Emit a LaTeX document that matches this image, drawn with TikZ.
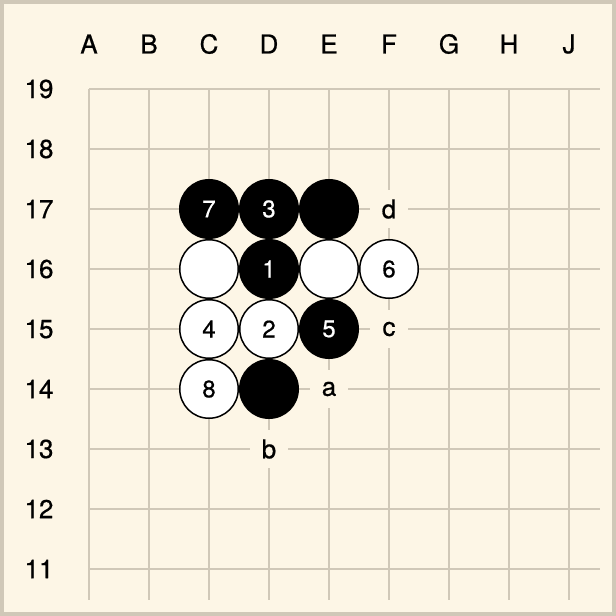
\documentclass[tikz,border=0pt]{standalone}
\usepackage{fontspec}
\setmainfont{TeX Gyre Heros}
\newfontfamily\goheavy[FakeBold=0.6]{TeX Gyre Heros}
\definecolor{boardbg}{HTML}{FDF6E6}
\definecolor{framec}{HTML}{D0C8B8}
\definecolor{gridc}{HTML}{D0C8B8}
\tikzset{
  gridline/.style={draw=gridc, line width=2pt},
  coordlabel/.style={inner sep=0pt, font=\goheavy\fontsize{26}{26}\selectfont},
  stonebase/.style={circle, inner sep=0pt, minimum size=58.5pt, line width=1.5pt, draw=black, font=\goheavy\fontsize{24}{24}\selectfont},
  bstone/.style={stonebase, fill=black, text=white},
  wstone/.style={stonebase, fill=white, text=black},
  marker/.style={fill=boardbg, inner sep=0pt, minimum size=38pt, font=\goheavy\fontsize{26}{26}\selectfont}
}
\begin{document}
\begin{tikzpicture}[x=1pt,y=-1pt]
\useasboundingbox (0,0) rectangle (616,616);
\fill[framec] (0,0) rectangle (616,616);
\fill[boardbg] (4,4) rectangle (612,612);
\foreach \i in {0,...,8} {
  \draw[gridline] (89+60*\i,89) -- (89+60*\i,600);
  \draw[gridline] (89,89+60*\i) -- (600,89+60*\i);
}
\foreach \l [count=\i from 0] in {A,B,C,D,E,F,G,H,J}
  \node[coordlabel] (col\l) at (89+60*\i,44) {\l};
\foreach \r [count=\j from 0] in {19,18,17,16,15,14,13,12,11}
  \node[coordlabel] (row\r) at (39,89+60*\j) {\r};
% black stones
\node[bstone] (C17) at (209,209) {7};
\node[bstone] (D17) at (269,209) {3};
\node[bstone] (E17) at (329,209) {};
\node[bstone] (D16) at (269,269) {1};
\node[bstone] (E15) at (329,329) {5};
\node[bstone] (D14) at (269,389) {};
% white stones
\node[wstone] (C16) at (209,269) {};
\node[wstone] (E16) at (329,269) {};
\node[wstone] (F16) at (389,269) {6};
\node[wstone] (C15) at (209,329) {4};
\node[wstone] (D15) at (269,329) {2};
\node[wstone] (C14) at (209,389) {8};
% markers
\node[marker] (F17) at (389,209) {d};
\node[marker] (F15) at (389,329) {c};
\node[marker] (E14) at (329,389) {a};
\node[marker] (D13) at (269,449) {b};
\end{tikzpicture}
\end{document}
